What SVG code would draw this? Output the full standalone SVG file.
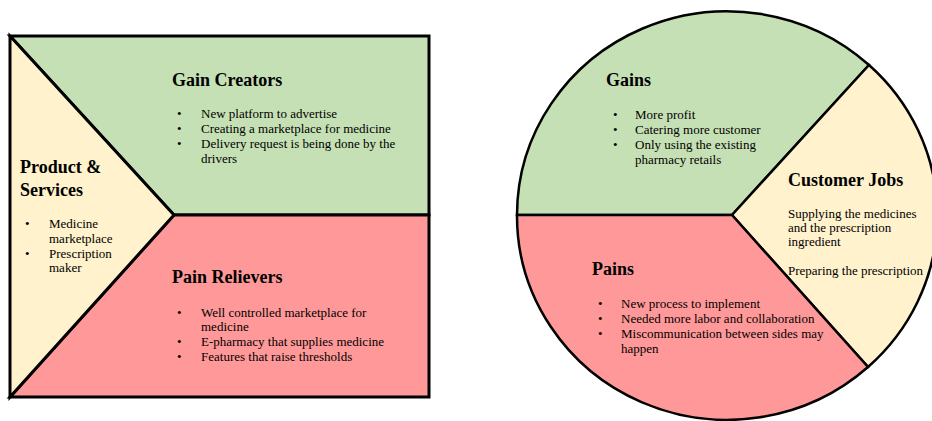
<svg xmlns="http://www.w3.org/2000/svg" width="932" height="421" viewBox="0 0 932 421" font-family="'Liberation Serif', 'DejaVu Serif', serif">
  <style>
    .green { fill: #C5E0B4; }
    .cream { fill: #FFF2CC; }
    .red { fill: #FF9999; }
    .sq { stroke: #000; stroke-width: 3; stroke-linejoin: miter; }
    .ci { stroke: #000; stroke-width: 2.5; stroke-linejoin: miter; }
    text { fill: #000; }
    .title { font-size: 18px; font-weight: bold; }
    .body { font-size: 13px; }
  </style>
  <rect width="932" height="421" fill="#fff"/>

  <!-- Value map (square) -->
  <g id="gain-creators">
    <polygon class="green sq" points="10,36 429,36 429,215 174,215"/>
    <text class="title" x="172" y="86">Gain Creators</text>
    <g class="body">
      <text x="177" y="118">•</text><text x="201" y="118">New platform to advertise</text>
      <text x="177" y="133">•</text><text x="201" y="133">Creating a marketplace for medicine</text>
      <text x="177" y="148">•</text><text x="201" y="148">Delivery request is being done by the</text>
      <text x="201" y="163">drivers</text>
    </g>
  </g>

  <g id="pain-relievers">
    <polygon class="red sq" points="174,215 429,215 429,397 10,397"/>
    <text class="title" x="172" y="283">Pain Relievers</text>
    <g class="body">
      <text x="177" y="317">•</text><text x="201" y="317">Well controlled marketplace for</text>
      <text x="201" y="331">medicine</text>
      <text x="177" y="346">•</text><text x="201" y="346">E-pharmacy that supplies medicine</text>
      <text x="177" y="361">•</text><text x="201" y="361">Features that raise thresholds</text>
    </g>
  </g>

  <g id="product-services">
    <polygon class="cream sq" points="10,36 174,215 10,397"/>
    <text class="title" x="20" y="173">Product &amp;</text>
    <text class="title" x="20" y="196">Services</text>
    <g class="body">
      <text x="25" y="228">•</text><text x="49" y="228">Medicine</text>
      <text x="49" y="243">marketplace</text>
      <text x="25" y="258">•</text><text x="49" y="258">Prescription</text>
      <text x="49" y="272">maker</text>
    </g>
  </g>

  <!-- Customer profile (circle) -->
  <g id="gains">
    <path class="green ci" d="M732,215 L517,215 A210,204 0 0 1 869,65 Z"/>
    <text class="title" x="606" y="86">Gains</text>
    <g class="body">
      <text x="613" y="119">•</text><text x="635" y="119">More profit</text>
      <text x="613" y="134">•</text><text x="635" y="134">Catering more customer</text>
      <text x="613" y="149">•</text><text x="635" y="149">Only using the existing</text>
      <text x="635" y="164">pharmacy retails</text>
    </g>
  </g>

  <g id="customer-jobs">
    <path class="cream ci" d="M732,215 L869,65 A210,204 0 0 1 868,367 Z"/>
    <text class="title" x="788" y="186">Customer Jobs</text>
    <g class="body">
      <text x="788" y="218">Supplying the medicines</text>
      <text x="788" y="232">and the prescription</text>
      <text x="788" y="246">ingredient</text>
      <text x="788" y="275">Preparing the prescription</text>
    </g>
  </g>

  <g id="pains">
    <path class="red ci" d="M732,215 L868,367 A210,204 0 0 1 517,215 Z"/>
    <text class="title" x="592" y="275">Pains</text>
    <g class="body">
      <text x="598" y="308">•</text><text x="621" y="308">New process to implement</text>
      <text x="598" y="323">•</text><text x="621" y="323">Needed more labor and collaboration</text>
      <text x="598" y="338">•</text><text x="621" y="338">Miscommunication between sides may</text>
      <text x="621" y="353">happen</text>
    </g>
  </g>

  <g id="connectors"></g>
</svg>
